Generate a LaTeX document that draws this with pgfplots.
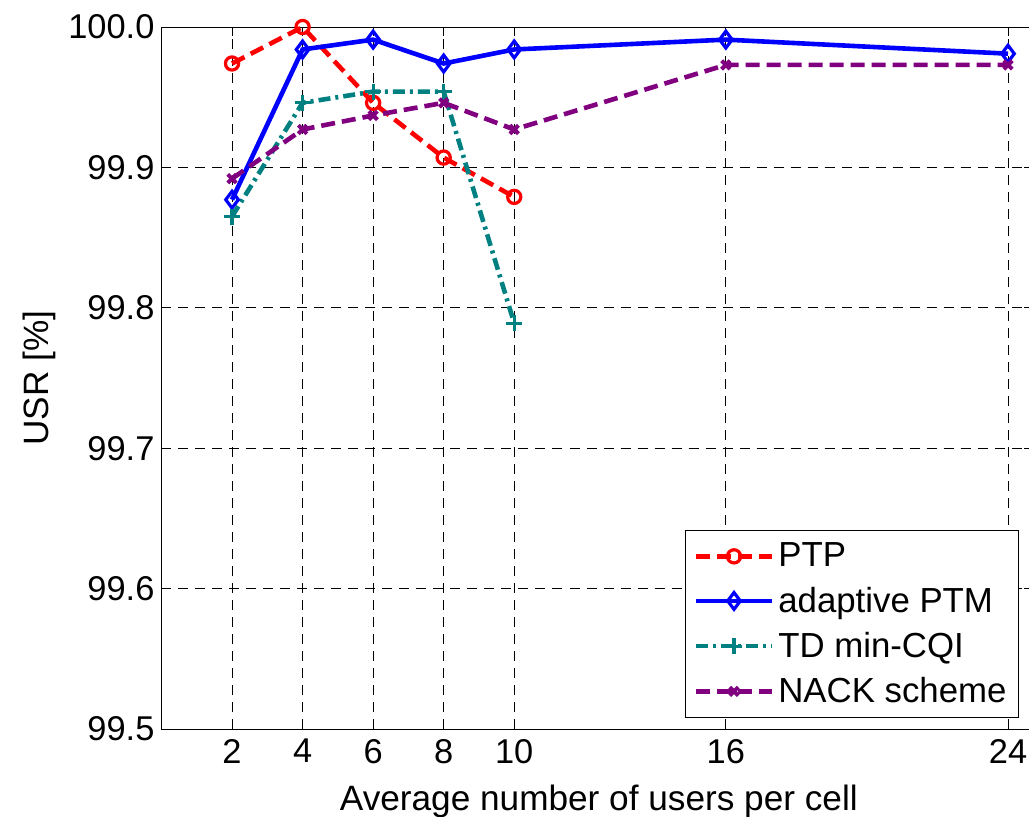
\documentclass[border=0pt]{standalone}
\usepackage{fontspec}
\setmainfont{Liberation Sans}
\usepackage{pgfplots}
\pgfplotsset{compat=1.18}
\definecolor{tdteal}{rgb}{0,0.5,0.5}
\definecolor{nackpurple}{rgb}{0.5,0,0.5}
\begin{document}
\begin{tikzpicture}
\begin{axis}[
    scale only axis,
    width=435.6pt, height=351pt,
    xmin=0, xmax=24.7,
    ymin=99.5, ymax=100,
    xtick={2,4,6,8,10,16,24},
    ytick={99.5,99.6,99.7,99.8,99.9,100},
    yticklabel style={/pgf/number format/.cd, fixed, fixed zerofill, precision=1},
    /pgf/number format/assume math mode=true,
    font=\fontsize{17.6}{20}\selectfont,
    tick label style={font=\fontsize{17.2}{20}\selectfont},
    xticklabel style={yshift=-1.5pt},
    tick align=inside,
    major tick length=4.5pt,
    tick style={black, line width=0.5pt},
    axis line style={black, line width=0.5pt},
    grid=major,
    grid style={black, line width=0.5pt, dash pattern=on 5pt off 3.5pt},
    xlabel={Average number of users per cell},
    ylabel={USR [\%]},
    xlabel style={at={(axis description cs:0.502,-0.1154)}, anchor=base},
    ylabel style={at={(axis description cs:-0.1406,0.5)}, anchor=center},
    legend cell align=left,
    legend style={at={(0.9843,0.0157)}, anchor=south east,
        draw=black, line width=0.5pt, fill=white,
        font=\fontsize{17.4}{20}\selectfont,
        row sep=4.5pt, inner xsep=4pt, inner ysep=4pt},
    legend image code/.code={
        \draw[mark repeat=2, mark phase=2, #1]
        plot coordinates {(0pt,0pt) (19pt,0pt) (38pt,0pt)};
    },
    clip=false,
]
\addplot[red, line width=2.3pt, dash pattern=on 7pt off 3.5pt,
    mark=o, mark size=3.3pt, mark options={solid, line width=1.6pt}]
    coordinates {(2,99.974) (4,100.0) (6,99.946) (8,99.907) (10,99.879)};
\addlegendentry{PTP}
\addplot[blue, line width=2.3pt,
    mark=diamond, mark size=4.2pt, mark options={solid, line width=1.6pt}]
    coordinates {(2,99.877) (4,99.984) (6,99.991) (8,99.974) (10,99.984) (16,99.991) (24,99.981)};
\addlegendentry{adaptive PTM}
\addplot[tdteal, line width=2.3pt, dash pattern=on 6pt off 2.5pt on 1.5pt off 2.5pt,
    mark=+, mark size=4pt, mark options={solid, line width=1.6pt}]
    coordinates {(2,99.865) (4,99.946) (6,99.954) (8,99.954) (10,99.789)};
\addlegendentry{TD min-CQI}
\addplot[nackpurple, line width=2.3pt, dash pattern=on 7pt off 3.5pt,
    mark=x, mark size=3pt, mark options={solid, line width=2pt}]
    coordinates {(2,99.892) (4,99.927) (6,99.937) (8,99.946) (10,99.927) (16,99.973) (24,99.973)};
\addlegendentry{NACK scheme}
\end{axis}
\pgfresetboundingbox
\path (current axis.south west) ++(-80.75pt,-43.5pt) coordinate (bbsw);
\path (current axis.north west) ++(433.75pt,13.5pt) coordinate (bbne);
\path[use as bounding box] (bbsw) rectangle (bbne);
\end{tikzpicture}
\end{document}
